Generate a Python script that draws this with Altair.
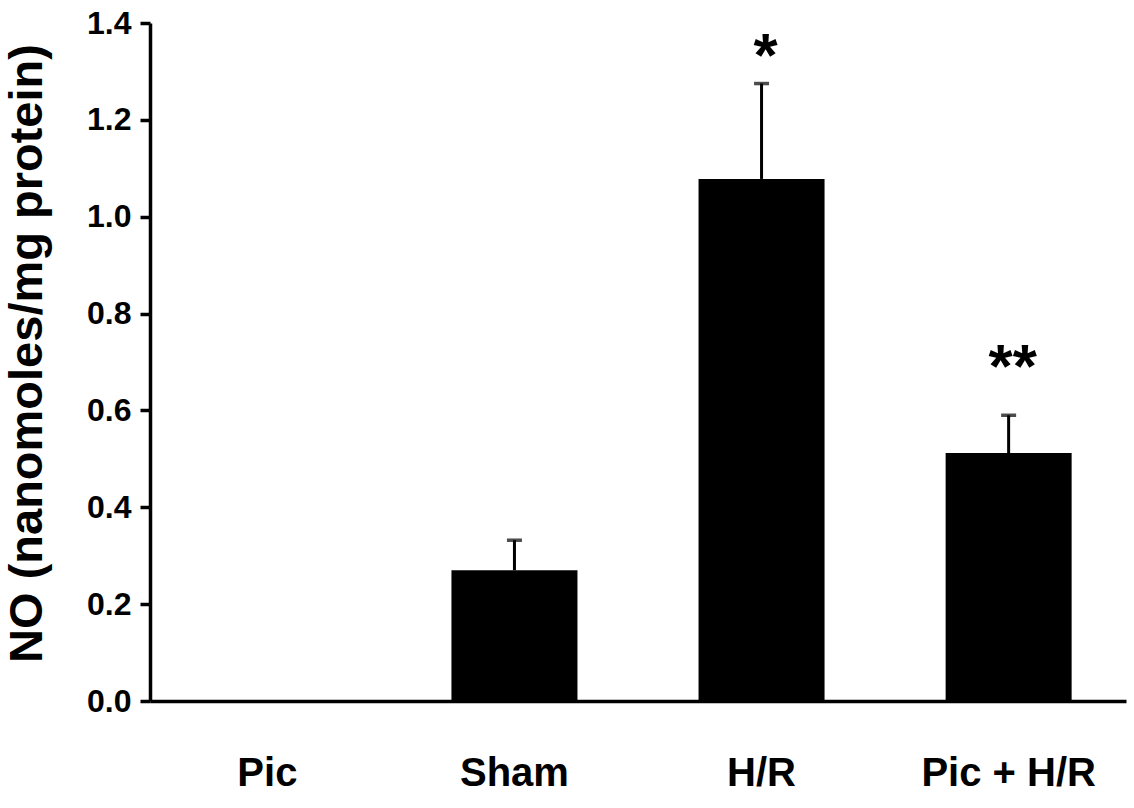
import altair as alt
import pandas as pd

groups = ["Pic", "Sham", "H/R", "Pic + H/R"]
means = [0.0, 0.270, 1.078, 0.512]
err_groups = ["Sham", "H/R", "Pic + H/R"]
err_tops = [0.332, 1.275, 0.590]
err_bases = [0.270, 1.078, 0.512]
sig_groups = ["H/R", "Pic + H/R"]
sig_labels = ["*", "**"]
sig_y = [1.392, 0.749]
y_ticks = [0.0, 0.2, 0.4, 0.6, 0.8, 1.0, 1.2, 1.4]

FONT = "Liberation Sans"

bars_df = pd.DataFrame({"group": groups, "mean": means})
err_df = pd.DataFrame({"group": err_groups, "lo": err_bases, "hi": err_tops})
sig_df = pd.DataFrame({"group": sig_groups, "label": sig_labels, "y": sig_y})

xscale = alt.Scale(domain=groups, paddingInner=0.49, paddingOuter=0.22)
yscale = alt.Scale(domain=[0, 1.4], nice=False, zero=True)

xenc = alt.X("group:N", scale=xscale, sort=groups,
             axis=alt.Axis(title=None, labelAngle=0, ticks=False, domainWidth=3.5,
                           domainColor="black", labelFont=FONT, labelFontSize=40,
                           labelFontWeight="bold", labelColor="black", labelPadding=52))

bars = alt.Chart(bars_df).mark_bar(color="black").encode(
    x=xenc,
    y=alt.Y("mean:Q", scale=yscale,
            axis=alt.Axis(title="NO (nanomoles/mg protein)", values=y_ticks, format=".1f",
                          grid=False, domainWidth=3.5, domainColor="black", tickWidth=3.5,
                          tickColor="black", tickSize=10, labelFont=FONT, labelFontSize=32,
                          labelFontWeight="bold", labelColor="black", labelPadding=9,
                          titleFont=FONT, titleFontSize=47, titleFontWeight="bold",
                          titleColor="black", titleX=-123, titleY=330,
                          titleAlign="center", titleBaseline="middle", titleAngle=270)),
)

rules = alt.Chart(err_df).mark_rule(color="black", strokeWidth=3).encode(
    x=alt.X("group:N", scale=xscale, sort=groups),
    y=alt.Y("lo:Q", scale=yscale),
    y2="hi:Q",
)

caps = alt.Chart(err_df).mark_tick(color="black", thickness=3.5, size=15, orient="horizontal").encode(
    x=alt.X("group:N", scale=xscale, sort=groups),
    y=alt.Y("hi:Q", scale=yscale),
)

sig = alt.Chart(sig_df).mark_text(color="black", font=FONT, fontSize=62, fontWeight="bold",
                                  baseline="top", align="center", dx=4).encode(
    x=alt.X("group:N", scale=xscale, sort=groups),
    y=alt.Y("y:Q", scale=yscale),
    text="label:N",
)

chart = alt.layer(bars, rules, caps, sig).properties(
    width=976, height=678,
    autosize=alt.AutoSizeParams(type="none"),
    padding={"left": 150, "top": 23, "right": 8, "bottom": 107},
    background="white",
).configure_view(stroke=None)

chart.save("out.html", embed_options={"renderer": "svg", "actions": False})
